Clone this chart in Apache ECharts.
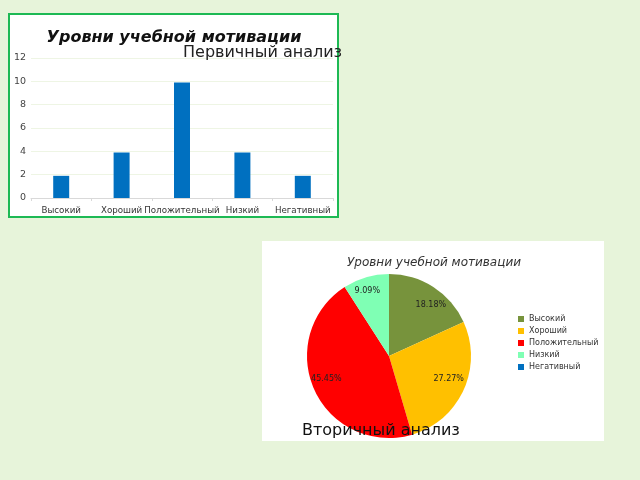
<!DOCTYPE html>
<html><head><meta charset="utf-8">
<script src="https://cdn.jsdelivr.net/npm/echarts@6/dist/echarts.min.js"></script>
<style>html,body{margin:0;padding:0;background:#e7f4da}#c{width:640px;height:480px}</style>
</head><body><div id="c"></div>
<script>
const categories = ['Высокий','Хороший','Положительный','Низкий','Негативный'];
const primaryValues = [1.9, 3.9, 9.9, 3.9, 1.9];
const secondaryValues = [2, 3, 5, 1, 0];
const yTicks = [0, 2, 4, 6, 8, 10, 12];
const pieColors = ['#77933c','#ffc000','#ff0000','#7fffb4','#0070c0'];
const pieLabelOffsets = [[4,8],[-4,-6],[1,-6],[-2,2],[0,0]];
const FONT = 'DejaVu Sans';
const total = secondaryValues.reduce((a,b)=>a+b,0);

const chart = echarts.init(document.getElementById('c'), null, {renderer:'canvas'});
chart.setOption({
  backgroundColor: '#e7f4da',
  animation: false,
  graphic: [
    {type:'rect', z:0, shape:{x:9, y:14, width:329, height:203}, style:{fill:'#ffffff', stroke:'#1db954', lineWidth:2}},
    {type:'rect', z:0, shape:{x:262, y:241, width:342, height:200}, style:{fill:'#ffffff'}}
  ],
  title: [
    {text:'Уровни учебной мотивации', left:169, top:25, textAlign:'center',
     textStyle:{fontFamily:FONT, fontSize:16, fontWeight:'bold', fontStyle:'italic', color:'#111'}},
    {text:'Первичный анализ', left:178, top:40,
     textStyle:{fontFamily:FONT, fontSize:16, fontWeight:'normal', color:'#222'}},
    {text:'Уровни учебной мотивации', left:429, top:252, textAlign:'center',
     textStyle:{fontFamily:FONT, fontSize:12, fontWeight:'normal', fontStyle:'italic', color:'#333'}},
    {text:'Вторичный анализ', left:297, top:418, z:20,
     textStyle:{fontFamily:FONT, fontSize:16, fontWeight:'normal', color:'#111'}}
  ],
  grid: {left:31, right:307, top:58, bottom:282, containLabel:false},
  xAxis: {type:'category', data:categories,
    axisLine:{lineStyle:{color:'#d9d9d9'}},
    axisTick:{show:true, lineStyle:{color:'#d9d9d9'}, length:3},
    axisLabel:{fontFamily:FONT, fontSize:8.7, color:'#333', interval:0, margin:8}},
  yAxis: {type:'value', min:0, max:12, interval:2,
    axisLine:{show:false}, axisTick:{show:false},
    axisLabel:{fontFamily:FONT, fontSize:9.5, color:'#444', margin:5,
      formatter: v => yTicks.includes(v) ? String(v) : ''},
    splitLine:{lineStyle:{color:'#eef5e4'}}},
  legend: {orient:'vertical', left:513, top:310, itemWidth:6, itemHeight:6, itemGap:4,
    icon:'rect', data:categories,
    textStyle:{fontFamily:FONT, fontSize:8, color:'#333'}},
  series: [
    {type:'bar', data:primaryValues, barWidth:16, itemStyle:{color:'#0070c0'}, z:3},
    {type:'pie', center:[389,356], radius:82, startAngle:90, clockwise:true,
     data: categories.map((n,i)=>({name:n, value:secondaryValues[i], itemStyle:{color:pieColors[i]}})),
     label:{show:false}, labelLine:{show:false}, emphasis:{disabled:true}},
    {type:'pie', center:[389,356], radius:[0,134], startAngle:90, clockwise:true, silent:true,
     legendHoverLink:false, z:5,
     data: categories.map((n,i)=>({name:n+' ', value:secondaryValues[i], label:{offset:pieLabelOffsets[i]}})),
     itemStyle:{color:'rgba(0,0,0,0)'},
     label:{show:true, position:'inner', fontFamily:FONT, fontSize:8, color:'#222',
       formatter: p => p.value ? (p.value/total*100).toFixed(2)+'%' : ''},
     labelLine:{show:false}, emphasis:{disabled:true}}
  ]
});
</script></body></html>
